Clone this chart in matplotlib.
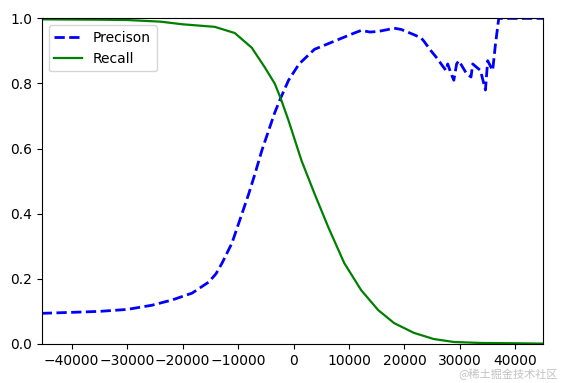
import matplotlib
matplotlib.use("Agg")
import matplotlib.pyplot as plt
from matplotlib.ticker import MultipleLocator

# Precision vs threshold
prec_thresholds = [-45400, -40000, -35000, -30000, -25500, -21900, -18300, -15300,
                   -14000, -12900, -11100, -9700, -8100, -7000, -5700, -4500, -3400,
                   -2330, -900, 1000, 3770, 7360, 10950, 12200, 13800, 15260, 16800,
                   18130, 19400, 21700, 23000, 23500, 24800, 26000, 26900, 27500,
                   27800, 28400, 28900, 29400, 29800, 30500, 31200, 32000, 32300,
                   33000, 33700, 34600, 35000, 35900, 36400, 37000, 45000]
precision = [0.094, 0.097, 0.100, 0.106, 0.119, 0.135, 0.156, 0.19,
             0.215, 0.248, 0.31, 0.38, 0.46, 0.52, 0.595, 0.655, 0.71,
             0.755, 0.81, 0.86, 0.905, 0.93, 0.955, 0.963, 0.958, 0.96, 0.965,
             0.97, 0.966, 0.95, 0.94, 0.93, 0.90, 0.875, 0.853, 0.84,
             0.86, 0.83, 0.81, 0.86, 0.87, 0.85, 0.83, 0.82, 0.86,
             0.85, 0.84, 0.78, 0.87, 0.84, 0.92, 1.0, 1.0]

# Recall vs threshold
rec_thresholds = [-45400, -35000, -30000, -24000, -20100, -14200, -10600, -7540,
                  -5200, -3400, -2330, -900, 1440, 3770, 6280, 9150, 12200,
                  15260, 18130, 21700, 25300, 28900, 33700, 40000, 45000]
recall = [0.997, 0.996, 0.995, 0.99, 0.982, 0.974, 0.955, 0.91,
          0.85, 0.80, 0.755, 0.686, 0.563, 0.462, 0.358, 0.248, 0.165,
          0.104, 0.064, 0.034, 0.015, 0.006, 0.003, 0.002, 0.001]

fig = plt.figure(figsize=(5.64, 3.83), dpi=100)
ax = fig.add_axes([0.074, 0.102, 0.889, 0.850])
ax.plot(prec_thresholds, precision, "b--", label="Precison", linewidth=2)
ax.plot(rec_thresholds, recall, "g-", label="Recall", linewidth=1.6)
ax.set_xlim(-45400, 45000)
ax.set_ylim(0, 1)
ax.xaxis.set_major_locator(MultipleLocator(10000))
ax.legend(loc="upper left", fontsize=10)
ax.tick_params(labelsize=10)

fig.text(0.99, 0.022, "@稀土掘金技术社区", ha="right", va="center", fontsize=8,
         color="#999999", alpha=0.6,
         family=["Noto Sans CJK SC", "DejaVu Sans"])

fig.savefig("out.png", dpi=100)
